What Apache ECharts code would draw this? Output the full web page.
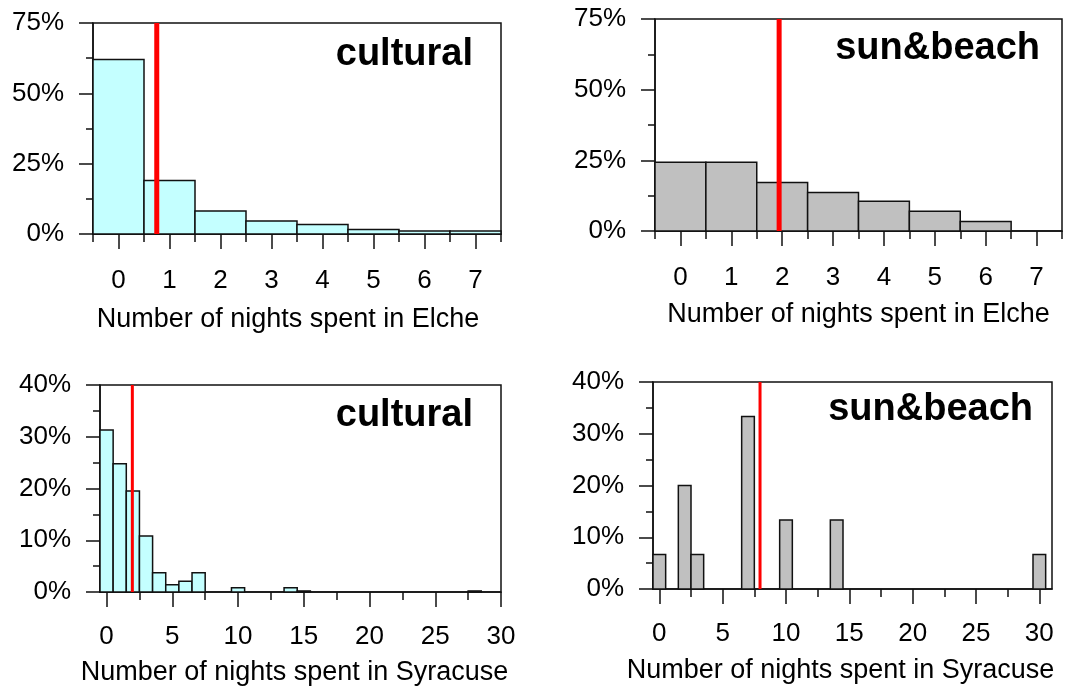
<!DOCTYPE html>
<html>
<head>
<meta charset="utf-8">
<script src="https://cdn.jsdelivr.net/npm/echarts@6/dist/echarts.min.js"></script>
<style>html,body{margin:0;padding:0;background:#fff}#c{width:1083px;height:688px}</style>
</head>
<body>
<div id="c"></div>
<script>
// ---- data ----
const elcheNights = [0, 1, 2, 3, 4, 5, 6, 7];
const elcheCultural = [62, 19, 8.2, 4.6, 3.4, 1.6, 1.1, 1.1];
const elcheSunBeach = [24.3, 24.3, 17.2, 13.6, 10.5, 7.0, 3.4, 0];
const syrCulturalNights = [0, 1, 2, 3, 4, 5, 6, 7, 10, 14, 15, 28];
const syrCultural = [31.3, 24.8, 19.5, 10.8, 3.7, 1.4, 2.1, 3.7, 0.8, 0.8, 0.2, 0.2];
const syrSunBeachNights = [0, 2, 3, 7, 10, 14, 30];
const syrSunBeach = [6.67, 20, 6.67, 33.33, 13.33, 13.33, 6.67];
const meanNights = [0.75, 1.94, 1.96, 7.95];
const panelTitles = ['cultural', 'sun&beach', 'cultural', 'sun&beach'];
const axisTitles = ['Number of nights spent in Elche', 'Number of nights spent in Elche',
                    'Number of nights spent in Syracuse', 'Number of nights spent in Syracuse'];
const elcheTicks = [0, 1, 2, 3, 4, 5, 6, 7];
const elcheMinorTicks = [-0.5, 0.5, 1.5, 2.5, 3.5, 4.5, 5.5, 6.5, 7.5];
const syrTicks = [0, 5, 10, 15, 20, 25, 30];
const syrMinorTicks = [2.5, 7.5, 12.5, 17.5, 22.5, 27.5];

// ---- layout ----
const FONT = 'Liberation Sans, Arial, sans-serif';
const panels = [
  {grid: {left: 93, top: 23, width: 408, height: 211}, xs: elcheNights, ys: elcheCultural, fill: '#c4ffff',
   xmin: -0.5, xmax: 7.5, ymax: 75, yint: 25, ticks: elcheTicks, minor: elcheMinorTicks, redW: 5,
   title: {right: 610, top: 36}, nameShift: 18, labelMargin: 34, nameGap: 72},
  {grid: {left: 655, top: 19, width: 407, height: 212}, xs: elcheNights, ys: elcheSunBeach, fill: '#c0c0c0',
   xmin: -0.5, xmax: 7.5, ymax: 75, yint: 25, ticks: elcheTicks, minor: elcheMinorTicks, redW: 5,
   title: {right: 43, top: 30}, nameShift: 0, labelMargin: 34, nameGap: 70},
  {grid: {left: 100, top: 385, width: 401, height: 207}, xs: syrCulturalNights, ys: syrCultural, fill: '#c4ffff',
   xmin: -0.5, xmax: 30, ymax: 40, yint: 10, ticks: syrTicks, minor: syrMinorTicks, redW: 3,
   title: {right: 610, top: 397}, nameShift: 12, labelMargin: 32, nameGap: 67},
  {grid: {left: 653, top: 382, width: 399, height: 207}, xs: syrSunBeachNights, ys: syrSunBeach, fill: '#c0c0c0',
   xmin: -0.5, xmax: 31, ymax: 40, yint: 10, ticks: syrTicks, minor: syrMinorTicks, redW: 3,
   title: {right: 50, top: 391}, nameShift: 24, labelMargin: 32, nameGap: 68}
];

const grids = [], xAxes = [], yAxes = [], series = [], titles = [];
panels.forEach((p, i) => {
  grids.push(Object.assign({show: true, borderColor: '#111', borderWidth: 1.5, backgroundColor: '#fff',
                            containLabel: false, outerBoundsMode: 'none'}, p.grid));
  xAxes.push({
    type: 'value', gridIndex: i, min: p.xmin, max: p.xmax,
    axisLine: {show: true, onZero: false, lineStyle: {color: '#111', width: 1.5}},
    axisTick: {show: true, length: 15, customValues: p.ticks, lineStyle: {color: '#111', width: 1.5}},
    axisLabel: {show: true, customValues: p.ticks, margin: p.labelMargin, fontSize: 26, color: '#000', fontFamily: FONT},
    splitLine: {show: false},
    name: axisTitles[i], nameLocation: 'middle', nameGap: p.nameGap,
    nameTextStyle: {fontSize: 27, color: '#000', fontFamily: FONT, padding: [0, p.nameShift, 0, 0]}
  });
  xAxes.push({
    type: 'value', gridIndex: i, min: p.xmin, max: p.xmax, position: 'bottom',
    axisLine: {show: false, onZero: false},
    axisTick: {show: true, length: 8, customValues: p.minor, lineStyle: {color: '#111', width: 1.5}},
    axisLabel: {show: false}, splitLine: {show: false}
  });
  yAxes.push({
    type: 'value', gridIndex: i, min: 0, max: p.ymax, interval: p.yint,
    axisLine: {show: true, onZero: false, lineStyle: {color: '#111', width: 1.5}},
    axisTick: {show: true, length: 14, lineStyle: {color: '#111', width: 1.5}},
    minorTick: {show: true, splitNumber: 2, length: 7, lineStyle: {color: '#111', width: 1.5}},
    axisLabel: {formatter: '{value}%', margin: 29, fontSize: 26, color: '#000', fontFamily: FONT},
    splitLine: {show: false}
  });
  const data = p.xs.map((x, k) => [x, p.ys[k]]);
  const fill = p.fill;
  series.push({
    type: 'custom', xAxisIndex: 2 * i, yAxisIndex: i, data: data, z: 2,
    renderItem: function (params, api) {
      const x = api.value(0), y = api.value(1);
      if (!y) return null;
      const a = api.coord([x - 0.5, y]);
      const b = api.coord([x + 0.5, 0]);
      return {type: 'rect', shape: {x: a[0], y: a[1], width: b[0] - a[0], height: b[1] - a[1]},
              style: {fill: fill, stroke: '#111', lineWidth: 1.5}};
    }
  });
  series.push({
    type: 'line', xAxisIndex: 2 * i, yAxisIndex: i, z: 5, symbol: 'none', silent: true,
    data: [[meanNights[i], 0], [meanNights[i], p.ymax]],
    lineStyle: {color: '#ff0000', width: p.redW}
  });
  titles.push({text: panelTitles[i], right: p.title.right, top: p.title.top, padding: 0,
               textStyle: {fontSize: 38, fontWeight: 'bold', color: '#000', fontFamily: FONT}});
});

const chart = echarts.init(document.getElementById('c'), null, {renderer: 'canvas'});
chart.setOption({
  animation: false,
  backgroundColor: '#fff',
  title: titles,
  grid: grids,
  xAxis: xAxes,
  yAxis: yAxes,
  series: series
});
</script>
</body>
</html>
